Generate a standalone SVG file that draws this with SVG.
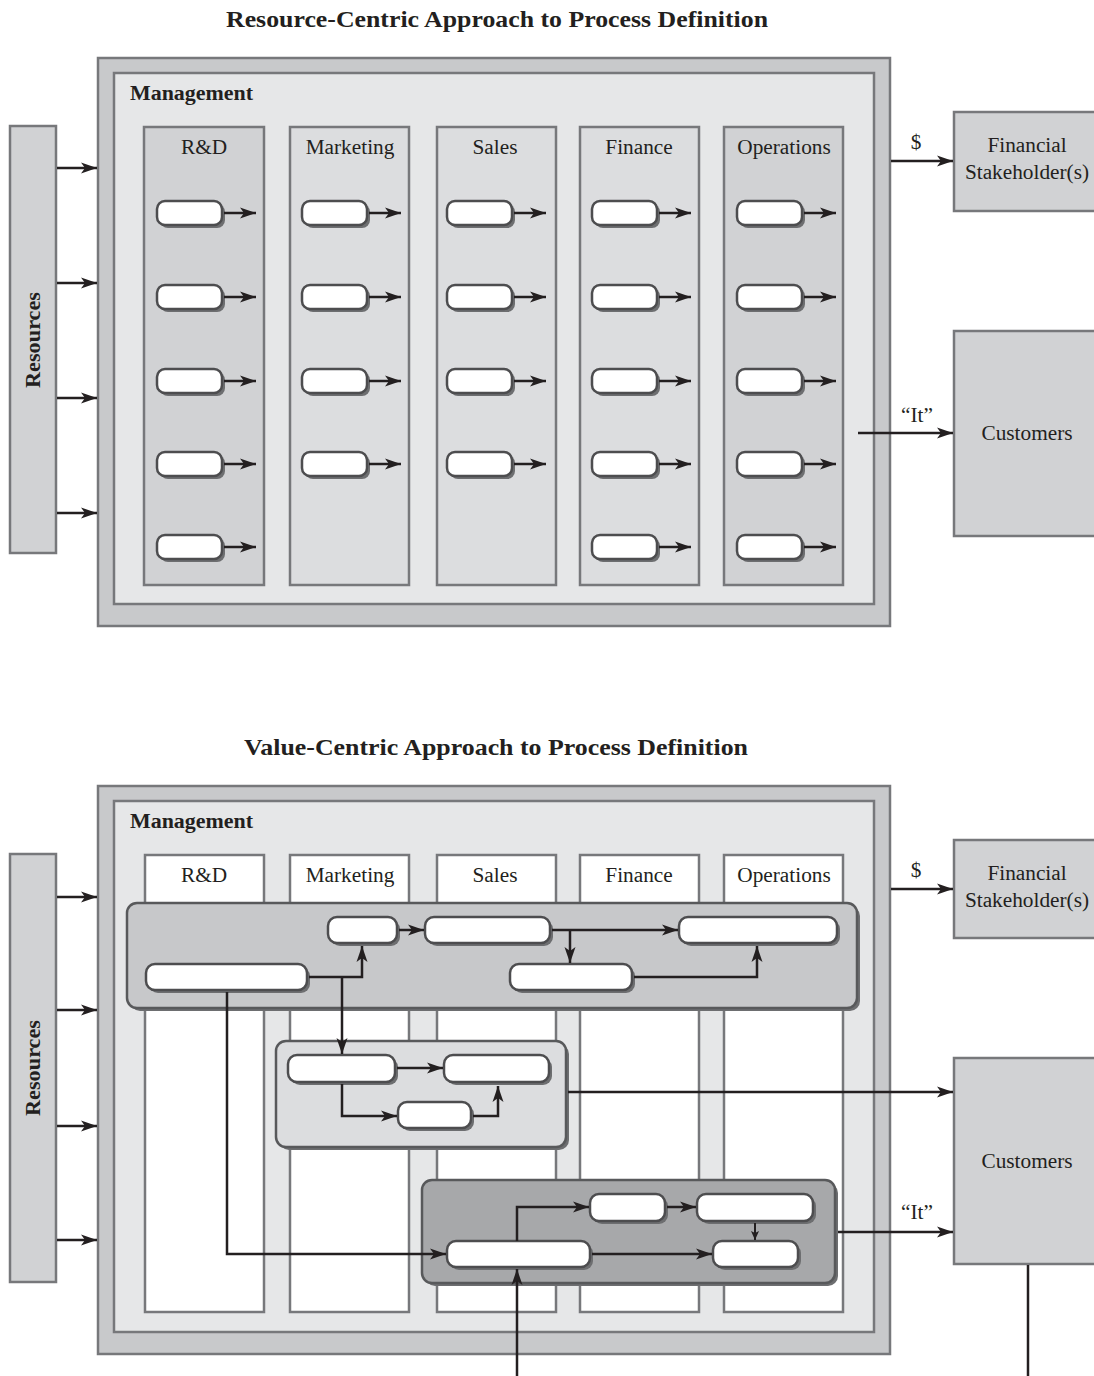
<svg xmlns="http://www.w3.org/2000/svg" width="1094" height="1376" viewBox="0 0 1094 1376">
<defs>
<marker id="ah" markerUnits="userSpaceOnUse" markerWidth="18" markerHeight="12" refX="16" refY="6" orient="auto"><path d="M0,0.5 L16,6 L0,11.5 L4,6 z" fill="#231f20"/></marker>
<marker id="ahs" markerUnits="userSpaceOnUse" markerWidth="10" markerHeight="10" refX="9" refY="4" orient="auto"><path d="M0,0 L9,4 L0,8 L2,4 z" fill="#231f20"/></marker>
</defs>
<style>
.title{font-family:"Liberation Serif",serif;font-weight:bold;font-size:23px;fill:#231f20;text-anchor:middle}
.mgmt{font-family:"Liberation Serif",serif;font-weight:bold;font-size:20px;fill:#231f20}
.lbl{font-family:"Liberation Serif",serif;font-size:21.3px;fill:#231f20;text-anchor:middle}
.res{font-family:"Liberation Serif",serif;font-weight:bold;font-size:21px;fill:#231f20;text-anchor:middle}
.outer{fill:#c8c9cb;stroke:#77787b;stroke-width:2.5}
.inner{fill:#e6e7e8;stroke:#77787b;stroke-width:2.5}
.coldk{fill:#d1d2d4;stroke:#77787b;stroke-width:2.5}
.collt{fill:#dcdddf;stroke:#77787b;stroke-width:2.5}
.colw{fill:#ffffff;stroke:#77787b;stroke-width:2.5}
.ext{fill:#d1d2d4;stroke:#77787b;stroke-width:2.5}
.pill{fill:#ffffff;stroke:#4d4d4f;stroke-width:2.5}
.psh{fill:#6d6e70}
.g1{fill:#c7c8ca;stroke:#58595b;stroke-width:2.5}
.g2{fill:#dcdddf;stroke:#58595b;stroke-width:2.5}
.g3{fill:#a7a8aa;stroke:#58595b;stroke-width:2.5}
.gsh{fill:#6d6e70}
.c{fill:none;stroke:#231f20;stroke-width:2.5}
.ca{fill:none;stroke:#231f20;stroke-width:2.5;marker-end:url(#ah)}
.cs{fill:none;stroke:#231f20;stroke-width:2;marker-end:url(#ahs)}
</style>

<!-- ===== TOP DIAGRAM ===== -->
<text class="title" x="497" y="27" textLength="542" lengthAdjust="spacingAndGlyphs">Resource-Centric Approach to Process Definition</text>

<g id="top-management">
<rect class="outer" x="98" y="58" width="792" height="568"/>
<rect class="inner" x="114" y="73" width="760" height="531"/>
<text class="mgmt" x="130" y="100" textLength="123" lengthAdjust="spacingAndGlyphs">Management</text>
</g>

<g id="top-rnd">
<rect class="coldk" x="144" y="127" width="120" height="458"/>
<text class="lbl" x="204" y="154">R&amp;D</text>
</g>
<g id="top-marketing">
<rect class="collt" x="290" y="127" width="119" height="458"/>
<text class="lbl" x="350" y="154">Marketing</text>
</g>
<g id="top-sales">
<rect class="collt" x="437" y="127" width="119" height="458"/>
<text class="lbl" x="495" y="154">Sales</text>
</g>
<g id="top-finance">
<rect class="collt" x="580" y="127" width="119" height="458"/>
<text class="lbl" x="639" y="154">Finance</text>
</g>
<g id="top-operations">
<rect class="coldk" x="724" y="127" width="119" height="458"/>
<text class="lbl" x="784" y="154">Operations</text>
</g>

<g id="top-processes">
<!-- R&D -->
<rect class="psh" x="160" y="204" width="65" height="24" rx="8"/><rect class="pill" x="157" y="201" width="65" height="24" rx="8"/>
<rect class="psh" x="160" y="288" width="65" height="24" rx="8"/><rect class="pill" x="157" y="285" width="65" height="24" rx="8"/>
<rect class="psh" x="160" y="372" width="65" height="24" rx="8"/><rect class="pill" x="157" y="369" width="65" height="24" rx="8"/>
<rect class="psh" x="160" y="455" width="65" height="24" rx="8"/><rect class="pill" x="157" y="452" width="65" height="24" rx="8"/>
<rect class="psh" x="160" y="538" width="65" height="24" rx="8"/><rect class="pill" x="157" y="535" width="65" height="24" rx="8"/>
<!-- Marketing -->
<rect class="psh" x="305" y="204" width="65" height="24" rx="8"/><rect class="pill" x="302" y="201" width="65" height="24" rx="8"/>
<rect class="psh" x="305" y="288" width="65" height="24" rx="8"/><rect class="pill" x="302" y="285" width="65" height="24" rx="8"/>
<rect class="psh" x="305" y="372" width="65" height="24" rx="8"/><rect class="pill" x="302" y="369" width="65" height="24" rx="8"/>
<rect class="psh" x="305" y="455" width="65" height="24" rx="8"/><rect class="pill" x="302" y="452" width="65" height="24" rx="8"/>
<!-- Sales -->
<rect class="psh" x="450" y="204" width="65" height="24" rx="8"/><rect class="pill" x="447" y="201" width="65" height="24" rx="8"/>
<rect class="psh" x="450" y="288" width="65" height="24" rx="8"/><rect class="pill" x="447" y="285" width="65" height="24" rx="8"/>
<rect class="psh" x="450" y="372" width="65" height="24" rx="8"/><rect class="pill" x="447" y="369" width="65" height="24" rx="8"/>
<rect class="psh" x="450" y="455" width="65" height="24" rx="8"/><rect class="pill" x="447" y="452" width="65" height="24" rx="8"/>
<!-- Finance -->
<rect class="psh" x="595" y="204" width="65" height="24" rx="8"/><rect class="pill" x="592" y="201" width="65" height="24" rx="8"/>
<rect class="psh" x="595" y="288" width="65" height="24" rx="8"/><rect class="pill" x="592" y="285" width="65" height="24" rx="8"/>
<rect class="psh" x="595" y="372" width="65" height="24" rx="8"/><rect class="pill" x="592" y="369" width="65" height="24" rx="8"/>
<rect class="psh" x="595" y="455" width="65" height="24" rx="8"/><rect class="pill" x="592" y="452" width="65" height="24" rx="8"/>
<rect class="psh" x="595" y="538" width="65" height="24" rx="8"/><rect class="pill" x="592" y="535" width="65" height="24" rx="8"/>
<!-- Operations -->
<rect class="psh" x="740" y="204" width="65" height="24" rx="8"/><rect class="pill" x="737" y="201" width="65" height="24" rx="8"/>
<rect class="psh" x="740" y="288" width="65" height="24" rx="8"/><rect class="pill" x="737" y="285" width="65" height="24" rx="8"/>
<rect class="psh" x="740" y="372" width="65" height="24" rx="8"/><rect class="pill" x="737" y="369" width="65" height="24" rx="8"/>
<rect class="psh" x="740" y="455" width="65" height="24" rx="8"/><rect class="pill" x="737" y="452" width="65" height="24" rx="8"/>
<rect class="psh" x="740" y="538" width="65" height="24" rx="8"/><rect class="pill" x="737" y="535" width="65" height="24" rx="8"/>
</g>

<g id="top-resources">
<rect class="ext" x="10" y="126" width="46" height="427"/>
<text class="res" transform="translate(40,340) rotate(-90)" textLength="96" lengthAdjust="spacingAndGlyphs">Resources</text>
</g>
<g id="top-financial">
<rect class="ext" x="954" y="112" width="145" height="99"/>
<text class="lbl" x="1027" y="152">Financial</text>
<text class="lbl" x="1027" y="179">Stakeholder(s)</text>
</g>
<g id="top-customers">
<rect class="ext" x="954" y="331" width="145" height="205"/>
<text class="lbl" x="1027" y="440">Customers</text>
</g>

<g id="top-connectors">
<path class="ca" d="M224,213 H256"/>
<path class="ca" d="M224,297 H256"/>
<path class="ca" d="M224,381 H256"/>
<path class="ca" d="M224,464 H256"/>
<path class="ca" d="M224,547 H256"/>
<path class="ca" d="M369,213 H401"/>
<path class="ca" d="M369,297 H401"/>
<path class="ca" d="M369,381 H401"/>
<path class="ca" d="M369,464 H401"/>
<path class="ca" d="M514,213 H546"/>
<path class="ca" d="M514,297 H546"/>
<path class="ca" d="M514,381 H546"/>
<path class="ca" d="M514,464 H546"/>
<path class="ca" d="M659,213 H691"/>
<path class="ca" d="M659,297 H691"/>
<path class="ca" d="M659,381 H691"/>
<path class="ca" d="M659,464 H691"/>
<path class="ca" d="M659,547 H691"/>
<path class="ca" d="M804,213 H836"/>
<path class="ca" d="M804,297 H836"/>
<path class="ca" d="M804,381 H836"/>
<path class="ca" d="M804,464 H836"/>
<path class="ca" d="M804,547 H836"/>
<path class="ca" d="M57,168 H97"/>
<path class="ca" d="M57,283 H97"/>
<path class="ca" d="M57,398 H97"/>
<path class="ca" d="M57,513 H97"/>
<path class="ca" d="M891,161 H953"/>
<text class="lbl" x="916" y="149">$</text>
<path class="ca" d="M858,433 H953"/>
<text class="lbl" x="917" y="422">“It”</text>
</g>

<!-- ===== BOTTOM DIAGRAM ===== -->
<text class="title" x="496" y="755" textLength="504" lengthAdjust="spacingAndGlyphs">Value-Centric Approach to Process Definition</text>

<g id="bot-management">
<rect class="outer" x="98" y="786" width="792" height="568"/>
<rect class="inner" x="114" y="801" width="760" height="531"/>
<text class="mgmt" x="130" y="828" textLength="123" lengthAdjust="spacingAndGlyphs">Management</text>
</g>

<g id="bot-rnd">
<rect class="colw" x="145" y="855" width="119" height="457"/>
<text class="lbl" x="204" y="882">R&amp;D</text>
</g>
<g id="bot-marketing">
<rect class="colw" x="290" y="855" width="119" height="457"/>
<text class="lbl" x="350" y="882">Marketing</text>
</g>
<g id="bot-sales">
<rect class="colw" x="437" y="855" width="119" height="457"/>
<text class="lbl" x="495" y="882">Sales</text>
</g>
<g id="bot-finance">
<rect class="colw" x="580" y="855" width="119" height="457"/>
<text class="lbl" x="639" y="882">Finance</text>
</g>
<g id="bot-operations">
<rect class="colw" x="724" y="855" width="119" height="457"/>
<text class="lbl" x="784" y="882">Operations</text>
</g>

<g id="value-stream-1">
<rect class="gsh" x="130" y="906" width="730" height="105" rx="10"/>
<rect class="g1" x="127" y="903" width="730" height="105" rx="10"/>
<rect class="psh" x="149" y="967" width="161" height="26" rx="9"/><rect class="pill" x="146" y="964" width="161" height="26" rx="9"/>
<rect class="psh" x="331" y="920" width="69" height="26" rx="9"/><rect class="pill" x="328" y="917" width="69" height="26" rx="9"/>
<rect class="psh" x="428" y="920" width="125" height="26" rx="9"/><rect class="pill" x="425" y="917" width="125" height="26" rx="9"/>
<rect class="psh" x="513" y="967" width="122" height="26" rx="9"/><rect class="pill" x="510" y="964" width="122" height="26" rx="9"/>
<rect class="psh" x="682" y="920" width="158" height="26" rx="9"/><rect class="pill" x="679" y="917" width="158" height="26" rx="9"/>
</g>

<g id="value-stream-2">
<rect class="gsh" x="279" y="1044" width="290" height="106" rx="10"/>
<rect class="g2" x="276" y="1041" width="290" height="106" rx="10"/>
<rect class="psh" x="291" y="1058" width="107" height="27" rx="9"/><rect class="pill" x="288" y="1055" width="107" height="27" rx="9"/>
<rect class="psh" x="447" y="1058" width="105" height="27" rx="9"/><rect class="pill" x="444" y="1055" width="105" height="27" rx="9"/>
<rect class="psh" x="401" y="1105" width="73" height="26" rx="9"/><rect class="pill" x="398" y="1102" width="73" height="26" rx="9"/>
</g>

<g id="value-stream-3">
<rect class="gsh" x="425" y="1183" width="413" height="103" rx="10"/>
<rect class="g3" x="422" y="1180" width="413" height="103" rx="10"/>
<rect class="psh" x="450" y="1244" width="143" height="26" rx="9"/><rect class="pill" x="447" y="1241" width="143" height="26" rx="9"/>
<rect class="psh" x="593" y="1197" width="75" height="27" rx="9"/><rect class="pill" x="590" y="1194" width="75" height="27" rx="9"/>
<rect class="psh" x="700" y="1197" width="116" height="27" rx="9"/><rect class="pill" x="697" y="1194" width="116" height="27" rx="9"/>
<rect class="psh" x="716" y="1244" width="85" height="26" rx="9"/><rect class="pill" x="713" y="1241" width="85" height="26" rx="9"/>
</g>

<g id="bot-resources">
<rect class="ext" x="10" y="854" width="46" height="428"/>
<text class="res" transform="translate(40,1068) rotate(-90)" textLength="96" lengthAdjust="spacingAndGlyphs">Resources</text>
</g>
<g id="bot-financial">
<rect class="ext" x="954" y="840" width="145" height="98"/>
<text class="lbl" x="1027" y="880">Financial</text>
<text class="lbl" x="1027" y="907">Stakeholder(s)</text>
</g>
<g id="bot-customers">
<rect class="ext" x="954" y="1058" width="145" height="206"/>
<text class="lbl" x="1027" y="1168">Customers</text>
</g>

<g id="bot-connectors">
<path class="ca" d="M57,897 H97"/>
<path class="ca" d="M57,1010 H97"/>
<path class="ca" d="M57,1126 H97"/>
<path class="ca" d="M57,1240 H97"/>
<path class="ca" d="M891,889 H953"/>
<text class="lbl" x="916" y="877">$</text>
<path class="ca" d="M309,977 H362 V946"/>
<path class="ca" d="M342,977 V1054"/>
<path class="ca" d="M399,930 H424"/>
<path class="ca" d="M552,930 H678"/>
<path class="ca" d="M570,930 V963"/>
<path class="ca" d="M634,977 H757 V946"/>
<path class="ca" d="M227,992 V1254 H446"/>
<path class="ca" d="M397,1068 H443"/>
<path class="ca" d="M342,1084 V1116 H397"/>
<path class="ca" d="M473,1116 H498 V1086"/>
<path class="ca" d="M568,1092 H953"/>
<path class="ca" d="M517,1241 V1207 H589"/>
<path class="ca" d="M667,1207 H696"/>
<path class="cs" d="M755,1223 V1240"/>
<path class="ca" d="M592,1254 H712"/>
<path class="ca" d="M517,1376 V1269"/>
<path class="ca" d="M838,1232 H953"/>
<text class="lbl" x="917" y="1219">“It”</text>
<path class="c" d="M1028,1265 V1376"/>
</g>
</svg>
